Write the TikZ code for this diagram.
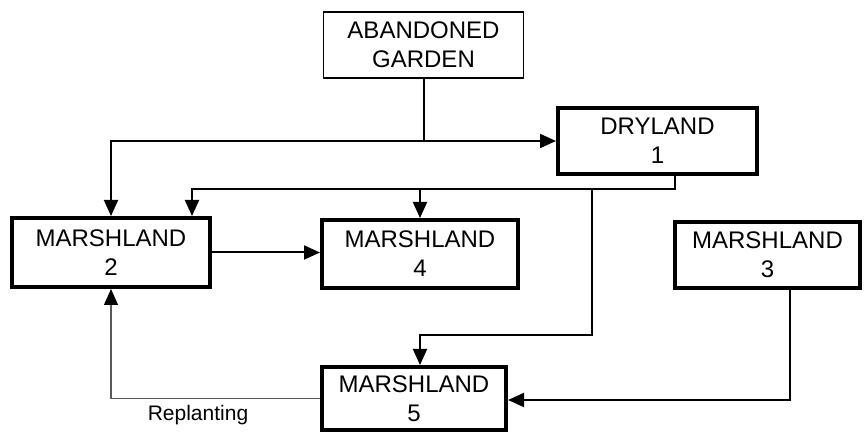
\documentclass[tikz,border=0pt]{standalone}
\usepackage{fontspec}
\setmainfont{Liberation Sans}
\usetikzlibrary{arrows.meta}
\tikzset{
  >={Triangle[length=8pt,width=7pt]},
  landbox/.style={draw, line width=2pt, align=center, inner sep=0pt,
    font=\fontsize{12}{14.5}\selectfont},
  gardenbox/.style={landbox, line width=0.8pt},
  link/.style={->, line width=1pt},
  replant/.style={-{Triangle[length=8pt,width=7pt,color=black]}, line width=0.6pt, draw=black!65},
}
\begin{document}
\begin{tikzpicture}[x=0.5pt,y=-0.5pt]
  \useasboundingbox (0,0) rectangle (864,432);
  % boxes (centres in px of the 864x432 sheet)
  \node[gardenbox, minimum width=100pt, minimum height=33pt] (garden) at (423.5,45) {ABANDONED\\GARDEN};
  \node[landbox, minimum width=99.5pt, minimum height=33pt] (dry) at (657.5,141) {DRYLAND\\1};
  \node[landbox, minimum width=99pt, minimum height=34.5pt] (m2) at (111,252.5) {MARSHLAND\\2};
  \node[landbox, minimum width=98pt, minimum height=34pt] (m4) at (420,254) {MARSHLAND\\4};
  \node[landbox, minimum width=92.5pt, minimum height=33pt] (m3) at (767.5,255) {MARSHLAND\\3};
  \node[landbox, minimum width=92pt, minimum height=31.5pt] (m5) at (414,398.5) {MARSHLAND\\5};
  \node[font=\fontsize{10.5}{12}\selectfont] (rep) at (198,415) {Replanting};
  % bends
  \coordinate (g1) at (111,141);
  \coordinate (d1) at (675,189);
  \coordinate (d2) at (192,189);
  \coordinate (d3) at (592,189);
  \coordinate (d4) at (420,335);
  \coordinate (c1) at (790,400);
  % connectors
  \draw[link] (garden.south) |- (dry.west);
  \draw[link] (garden.south) |- (g1) -- (m2.north);
  \draw[link] (dry.south -| d1) -- (d1) -| (d2) -- (d2 |- m2.north);
  \draw[link] (m4.north |- d1) -- (m4.north);
  \draw[link] (d3) |- (d4) -- (d4 |- m5.north);
  \draw[link] (m2.east) -- (m2.east -| m4.west);
  \draw[link] (m3.south -| c1) -- (c1) -- (c1 -| m5.east);
  \draw[replant] (m5.west) -| (m2.south);
\end{tikzpicture}
\end{document}
